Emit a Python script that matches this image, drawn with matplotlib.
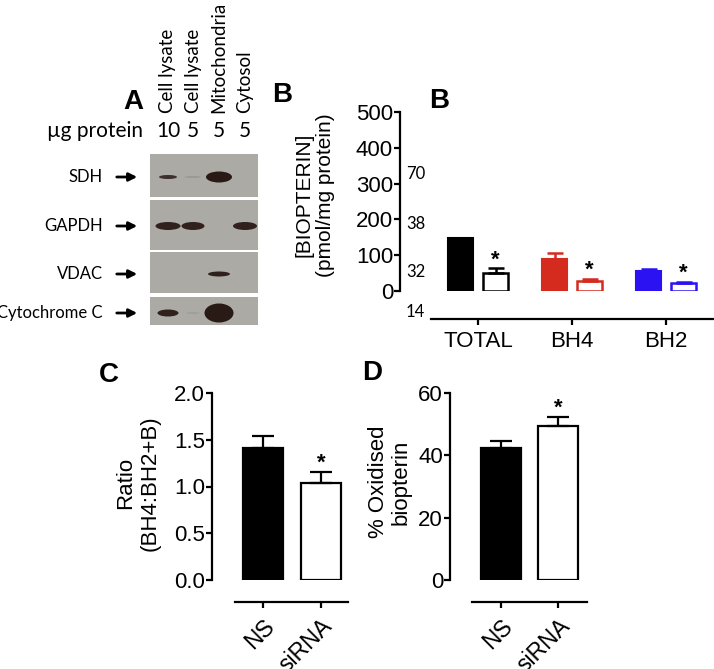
import matplotlib
matplotlib.use("Agg")
import matplotlib.pyplot as plt
from matplotlib.patches import Rectangle, Ellipse
import numpy as np

plt.rcParams['font.family'] = ['Liberation Sans', 'DejaVu Sans']

# ---- data ----
# panel A (blot)
lanes = ['Cell lysate', 'Cell lysate', 'Mitochondria', 'Cytosol']
ug_protein = ['10', '5', '5', '5']
blot_rows = ['SDH', 'GAPDH', 'VDAC', 'Cytochrome C']
# band darkness per row / lane (0 = none)
band_alpha = [[0.85, 0.12, 1.0, 0.0],
              [0.95, 0.95, 0.0, 0.95],
              [0.0, 0.0, 0.95, 0.0],
              [0.95, 0.08, 1.0, 0.0]]
band_w = [[18, 16, 26, 0],
          [25, 23, 0, 24],
          [0, 0, 22, 0],
          [21, 14, 29, 0]]
band_h = [[4, 2, 11, 0],
          [8, 8, 0, 8],
          [0, 0, 5, 0],
          [7, 2, 19, 0]]
mw_markers = ['70', '38', '32', '14']

# panel B
b_groups = ['TOTAL', 'BH4', 'BH2']
b_colors = ['black', '#d52b1e', '#2b12f2']
b_ns = [148, 89, 56]
b_ns_err = [0, 17, 6]
b_si = [50, 28, 22]
b_si_err = [14, 6, 3]

# panel C, D
cd_groups = ['NS', 'siRNA']
ratio = [1.41, 1.04]
ratio_err = [0.13, 0.11]
oxid = [42.2, 49.4]
oxid_err = [2.4, 2.9]

W, H = 714, 669
fig = plt.figure(figsize=(W / 100, H / 100), dpi=100)


def add_ax(l, t, r, b):
    return fig.add_axes([l / W, 1 - b / H, (r - l) / W, (b - t) / H])


def ftext(x, y, s, **kw):
    fig.text(x / W, 1 - y / H, s, **kw)


def style(ax, out_pts):
    for s in ['top', 'right']:
        ax.spines[s].set_visible(False)
    for s in ['left', 'bottom']:
        ax.spines[s].set_linewidth(1.6)
    ax.spines['bottom'].set_position(('outward', out_pts))
    ax.tick_params(direction='out', length=4, width=1.6, labelsize=16, pad=1)
    ax.tick_params(axis='x', pad=5)
    ax.patch.set_alpha(0)


calibri = ['Lato', 'DejaVu Sans']

# ---- panel A ----
pa = add_ax(0, 0, W, H)
pa.set_xlim(0, W)
pa.set_ylim(H, 0)
pa.axis('off')
lane_x = [168, 193, 219, 245]
row_box = [(154, 197), (200, 250), (252, 293), (297, 325)]
band_y = [177, 226, 274, 313]
for r, (t, b) in enumerate(row_box):
    pa.add_patch(Rectangle((150, t), 108, b - t, color='#abaaa5', lw=0))
    for i in range(len(lanes)):
        if band_alpha[r][i] <= 0:
            continue
        pa.add_patch(Ellipse((lane_x[i], band_y[r]), band_w[r][i],
                             band_h[r][i], color='#2a1a16',
                             alpha=band_alpha[r][i], lw=0))
    ftext(103, band_y[r], blot_rows[r], ha='right', va='center',
          fontsize=12, family=calibri)
    pa.annotate('', xy=(140, band_y[r]), xytext=(114, band_y[r]),
                arrowprops=dict(arrowstyle='-|>', color='black', lw=2,
                                mutation_scale=12))

for i, lab in enumerate(lanes):
    ftext(lane_x[i], 113, lab, rotation=90, ha='center', va='bottom',
          fontsize=13.5, family=calibri)
    ftext(lane_x[i], 131, ug_protein[i], ha='center', va='center',
          fontsize=15, family=calibri)
ftext(143, 131, 'µg protein', ha='right', va='center', fontsize=15,
      family=calibri)
ftext(133, 102, 'A', ha='center', va='center', fontsize=20, weight='bold')
ftext(282, 95, 'B', ha='center', va='center', fontsize=20, weight='bold')
ftext(439, 101, 'B', ha='center', va='center', fontsize=20, weight='bold')
ftext(109, 375, 'C', ha='center', va='center', fontsize=20, weight='bold')
ftext(372, 373, 'D', ha='center', va='center', fontsize=20, weight='bold')

for y, m in zip([174, 224, 272, 312], mw_markers):
    ftext(406, y, m, ha='left', va='center', fontsize=12, family=calibri)

# ---- panel B ----
axb = add_ax(400, 112, 714, 291)
style(axb, 20)
xb = np.arange(len(b_groups))
wb, off = 0.266, 0.186
for i in range(len(b_groups)):
    c = b_colors[i]
    axb.bar(xb[i] - off, b_ns[i], wb, color=c, edgecolor=c, lw=1.5)
    axb.bar(xb[i] + off, b_si[i], wb, facecolor='white', edgecolor=c, lw=1.8)
    if b_ns_err[i] > 0:
        axb.errorbar(xb[i] - off, b_ns[i], yerr=[[0], [b_ns_err[i]]],
                     fmt='none', ecolor=c, elinewidth=1.8, capsize=6,
                     capthick=1.8, zorder=1)
    axb.errorbar(xb[i] + off, b_si[i], yerr=[[0], [b_si_err[i]]],
                 fmt='none', ecolor=c, elinewidth=1.8, capsize=6,
                 capthick=1.8, zorder=1)
    axb.text(xb[i] + off, b_si[i] + b_si_err[i] + 8, '*', ha='center',
             va='baseline', fontsize=16, weight='bold')
axb.set_xlim(-0.83, 2.51)
axb.set_ylim(0, 500)
axb.spines['bottom'].set_bounds(-0.5, 2.51)
axb.set_yticks(range(0, 501, 100))
axb.set_xticks(xb)
axb.set_xticklabels(b_groups, fontsize=16)
ftext(315, 195, '[BIOPTERIN]\n(pmol/mg protein)', rotation=90, ha='center',
      va='center', fontsize=15, linespacing=1.15)

# ---- panel C ----
axc = add_ax(212, 393, 348, 580)
style(axc, 16)
xc = np.arange(len(cd_groups))
axc.bar(xc, ratio, 0.69, color=['black', 'white'], edgecolor='black', lw=1.6)
axc.errorbar(xc, ratio, yerr=[[0, 0], ratio_err], fmt='none', ecolor='black',
             elinewidth=1.6, capsize=8, capthick=1.6, zorder=1)
axc.text(xc[1], ratio[1] + ratio_err[1] + 0.035, '*', ha='center',
         va='baseline', fontsize=16, weight='bold')
axc.set_xlim(-0.88, 1.47)
axc.set_ylim(0, 2.0)
axc.spines['bottom'].set_bounds(-0.48, 1.47)
axc.set_yticks([0, 0.5, 1.0, 1.5, 2.0])
axc.set_yticklabels(['0.0', '0.5', '1.0', '1.5', '2.0'])
axc.set_xticks(xc)
axc.set_xticklabels(cd_groups, rotation=45, ha='right',
                    rotation_mode='anchor', fontsize=16.5)
ftext(138, 483, 'Ratio\n(BH4:BH2+B)', rotation=90, ha='center', va='center',
      fontsize=16, linespacing=1.2)

# ---- panel D ----
axd = add_ax(450, 393, 587, 580)
style(axd, 16)
axd.bar(xc, oxid, 0.70, color=['black', 'white'], edgecolor='black', lw=1.6)
axd.errorbar(xc, oxid, yerr=[[0, 0], oxid_err], fmt='none', ecolor='black',
             elinewidth=1.6, capsize=8, capthick=1.6, zorder=1)
axd.text(xc[1], oxid[1] + oxid_err[1] + 1.0, '*', ha='center', va='baseline',
         fontsize=16, weight='bold')
axd.set_xlim(-0.895, 1.51)
axd.set_ylim(0, 60)
axd.spines['bottom'].set_bounds(-0.51, 1.51)
axd.set_yticks([0, 20, 40, 60])
axd.set_xticks(xc)
axd.set_xticklabels(cd_groups, rotation=45, ha='right',
                    rotation_mode='anchor', fontsize=16.5)
ftext(390, 482, '% Oxidised\nbiopterin', rotation=90, ha='center',
      va='center', fontsize=16, linespacing=1.1)

fig.savefig('out.png', dpi=100)
